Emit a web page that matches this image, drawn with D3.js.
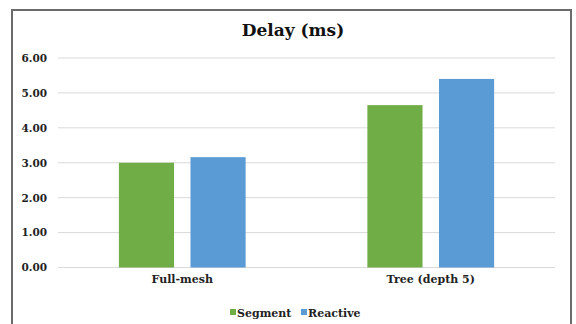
<!DOCTYPE html>
<html><head><meta charset="utf-8">
<script src="https://cdn.jsdelivr.net/npm/d3@7"></script>
<style>body{margin:0;background:#fff}svg{display:block}
svg text{font-family:"DejaVu Serif",serif;font-weight:bold}</style>
</head><body>
<script>
const categories = ["Full-mesh", "Tree (depth 5)"];
const seriesNames = ["Segment", "Reactive"];
const segment = [3.00, 4.65];
const reactive = [3.16, 5.40];
const yTicks = [0, 1, 2, 3, 4, 5, 6];
const colors = ["#70AD47", "#5B9BD5"];
const values = [segment, reactive];

(function () {
const W = 576, H = 324;
const svg = d3.select("body").append("svg").attr("width", W).attr("height", H);

// frame
svg.append("rect").attr("x", 12).attr("y", 10).attr("width", 559).attr("height", 330)
  .attr("fill", "#fff").attr("stroke", "#6b6b6b").attr("stroke-width", 2);

const pL = 58, pR = 555, pT = 58, pB = 267.5;
const y = d3.scaleLinear().domain([0, 6]).range([pB, pT]);
const x0 = d3.scaleBand().domain(categories).range([pL, pR]).paddingInner(0.49).paddingOuter(0.245);
const x1 = d3.scaleBand().domain(seriesNames).range([0, x0.bandwidth()]).paddingInner(0.23);

svg.append("g").selectAll("line").data(yTicks).join("line")
  .attr("x1", pL).attr("x2", pR)
  .attr("y1", d => y(d)).attr("y2", d => y(d))
  .attr("stroke", "#d9d9d9").attr("stroke-width", 1);

const yAxis = d3.axisLeft(y).tickValues(yTicks).tickFormat(d3.format(".2f")).tickSize(0).tickPadding(0);
const ya = svg.append("g").attr("transform", `translate(47,0)`).call(yAxis);
ya.attr("font-family", null).attr("font-size", null);
ya.select(".domain").remove();
ya.selectAll("text").style("font-size", "10.5px").attr("fill", "#222");

const groups = svg.append("g").selectAll("g").data(categories).join("g")
  .attr("transform", d => `translate(${x0(d)},0)`);
groups.selectAll("rect").data((d, i) => seriesNames.map((s, j) => ({s, j, v: values[j][i]}))).join("rect")
  .attr("x", d => x1(d.s)).attr("width", x1.bandwidth())
  .attr("y", d => y(d.v)).attr("height", d => y(0) - y(d.v))
  .attr("fill", d => colors[d.j]);

const xAxis = d3.axisBottom(x0).tickSize(0).tickPadding(0);
const xa = svg.append("g").attr("transform", `translate(0,${pB + 8})`).call(xAxis);
xa.attr("font-family", null).attr("font-size", null);
xa.select(".domain").remove();
xa.selectAll("text").style("font-size", "11px").attr("fill", "#222").attr("dy", "0.71em");

svg.append("text").attr("x", 293).attr("y", 36).attr("text-anchor", "middle")
  .style("font-size", "17px").attr("fill", "#111")
  .text("Delay (ms)");

const legX = [230, 301];
const leg = svg.append("g").selectAll("g").data(seriesNames).join("g")
  .attr("transform", (d, i) => `translate(${legX[i]},313)`);
leg.append("rect").attr("x", 0).attr("y", -4).attr("width", 6).attr("height", 6).attr("fill", (d, i) => colors[i]);
leg.append("text").attr("x", 7).attr("y", 0).attr("dy", "0.35em")
  .style("font-size", "11px").attr("fill", "#222")
  .text(d => d);
})();
</script>
</body></html>
